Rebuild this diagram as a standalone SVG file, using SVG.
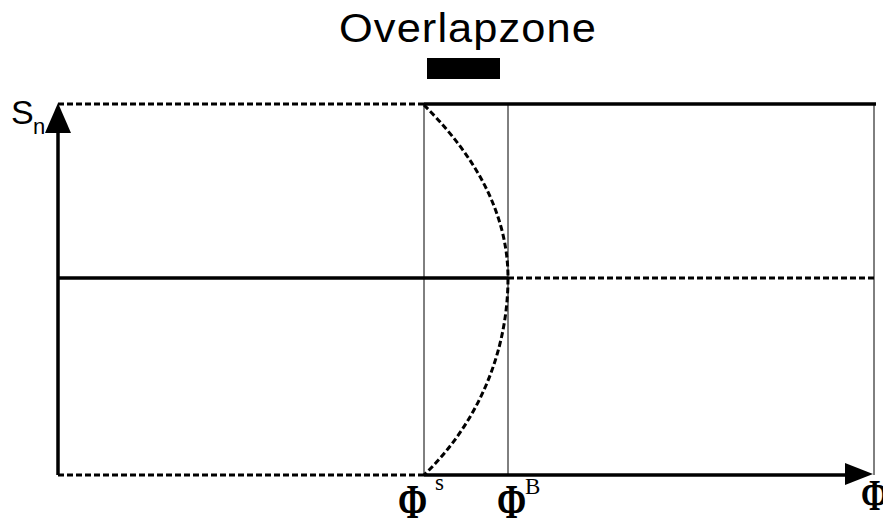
<svg xmlns="http://www.w3.org/2000/svg" width="883" height="523" viewBox="0 0 883 523">
<style>
.thick{stroke:#000;stroke-width:3.5;fill:none}
.dash{stroke:#000;stroke-width:3;fill:none;stroke-dasharray:6,3}
.thin{stroke:#000;stroke-width:1;fill:none}
.phi{font-family:"Liberation Serif",serif;font-size:44px;font-weight:bold;fill:#000}
.sup{font-family:"Liberation Serif",serif;font-size:23px;fill:#000}
.sans{font-family:"Liberation Sans",sans-serif;fill:#000}
</style>
<rect width="883" height="523" fill="#fff"/>
<g id="title">
<text class="sans" x="468" y="42" font-size="40" letter-spacing="1" text-anchor="middle" textLength="258" lengthAdjust="spacingAndGlyphs">Overlapzone</text>
<rect x="427" y="58" width="73" height="21" fill="#000"/>
</g>
<g id="connectors">
<line class="thin" x1="424" y1="105" x2="424" y2="475"/>
<line class="thin" x1="508" y1="105" x2="508" y2="475"/>
<line class="thin" x1="874" y1="105" x2="874" y2="475" stroke-width="1.5"/>
<line class="dash" x1="58" y1="104" x2="424" y2="104"/>
<line class="thick" x1="424" y1="104" x2="876" y2="104"/>
<line class="thick" x1="58" y1="278" x2="508" y2="278"/>
<line class="dash" x1="508" y1="278" x2="876" y2="278"/>
<line class="dash" x1="58" y1="475" x2="424" y2="475"/>
<line class="thick" x1="424" y1="475" x2="848" y2="475"/>
<polygon points="873,474 845,463 845,485" fill="#000"/>
<line class="thick" x1="58" y1="475" x2="58" y2="130"/>
<polygon points="58,103 45,133 71,133" fill="#000"/>
<path class="dash" stroke-width="3.5" d="M424,105 C460,141 508,200 508,278 A273,273 0 0 1 424,475"/>
</g>
<g id="labels">
<text class="sans" x="11" y="124" font-size="34">S</text>
<text class="sans" x="33" y="134" font-size="22">n</text>
<text class="phi" transform="translate(398,518) scale(0.8,1.12)">Φ</text>
<text class="sup" x="435" y="490">s</text>
<text class="phi" transform="translate(497,518) scale(0.8,1.12)">Φ</text>
<text class="sup" x="525" y="494">B</text>
<text class="phi" transform="translate(861,510) scale(0.75,1)">Φ</text>
</g>
</svg>
